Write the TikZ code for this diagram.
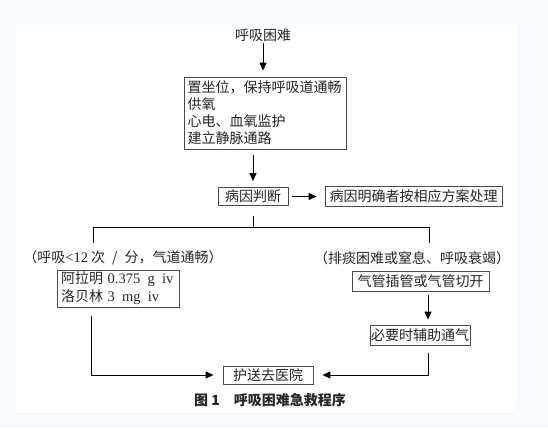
\documentclass[tikz,border=0pt]{standalone}
\usepackage{fontspec}
\setmainfont{Liberation Serif}
\newfontfamily\cjk{Noto Sans CJK SC}
\usetikzlibrary{arrows.meta}
\definecolor{paleblue}{RGB}{246,250,255}
\tikzstyle{txt}=[inner sep=1pt, text=black!85, font=\fontsize{14}{17}\selectfont\cjk]
\tikzstyle{box}=[txt, draw=black!70, line width=0.8pt]
\tikzstyle{conn}=[line width=1pt, -{Triangle[length=8pt,width=7pt]}]
\tikzstyle{wire}=[line width=1pt]

\begin{document}
\begin{tikzpicture}[x=1pt, y=-1pt]
			\fill[paleblue] (0,0) rectangle (548,428);
			\fill[white] (16,24) rectangle (517,412);
			\node[txt] (start) at (263,35) {呼吸困难};
			\node[box, minimum width=162pt, minimum height=72pt, text width=155pt, align=left] (first) at (265,113) {置坐位，保持呼吸道通畅\\供氧\\心电、血氧监护\\建立静脉通路};
			\node[box, minimum width=70pt, minimum height=18pt] (judge) at (253,196.5) {病因判断};
			\node[box, minimum width=177pt, minimum height=20pt] (clear) at (413.5,196.5) {病因明确者按相应方案处理};
			\node[txt] (mild) at (123,258) {（呼吸{\rmfamily\fontsize{14.5}{17}\selectfont <12} 次\enspace/\enspace{}分，气道通畅）};
			\node[txt] (severe) at (412,258) {（排痰困难或窒息、呼吸衰竭）};
			\node[box, minimum width=122pt, minimum height=37pt, text width=114pt, align=left, font=\fontsize{14}{18}\selectfont\cjk] (drug) at (118,288.5) {阿拉明 {\rmfamily\fontsize{14.5}{18}\selectfont 0.375\enspace g\enspace iv}\\洛贝林 {\rmfamily\fontsize{14.5}{18}\selectfont 3\enspace mg\enspace iv}};
			\node[box, minimum width=137pt, minimum height=20pt] (intub) at (420.5,281) {气管插管或气管切开};
			\node[box, minimum width=88pt, minimum height=20pt] (assist) at (420,335) {必要时辅助通气};
			\node[box, minimum width=90pt, minimum height=18pt] (hospital) at (268,375) {护送去医院};
			\node[txt, font=\fontsize{14}{17}\selectfont\cjk\bfseries] (title) at (270,400) {图 1\quad{}呼吸困难急救程序};
			\coordinate (fork) at (253,227);
			\coordinate (forkL) at (93,227);
			\coordinate (forkR) at (429,227);
			\coordinate (downL) at (93,243);
			\coordinate (downR) at (429,243);
			\draw[conn, shorten >=6pt] (start) -- (start |- first.north);
			\draw[conn, shorten <=6pt, shorten >=6pt] (judge |- first.south) -- (judge.north);
			\draw[conn, shorten <=4pt, shorten >=8pt] (judge) -- (clear);
			\draw[wire, shorten <=10pt] (judge) -- (fork);
			\draw[wire] (downL) -- (forkL) -- (forkR) -- (downR);
			\draw[conn, shorten <=9pt, shorten >=9pt] ([xshift=-27pt]drug.south) |- (hospital.west);
			\draw[conn, shorten <=4pt, shorten >=5pt] ([xshift=7.5pt]intub.south) -- ([xshift=8pt]assist.north);
			\draw[conn, shorten <=8pt, shorten >=9pt] ([xshift=8pt]assist.south) |- (hospital.east);
		\end{tikzpicture}
\end{document}
